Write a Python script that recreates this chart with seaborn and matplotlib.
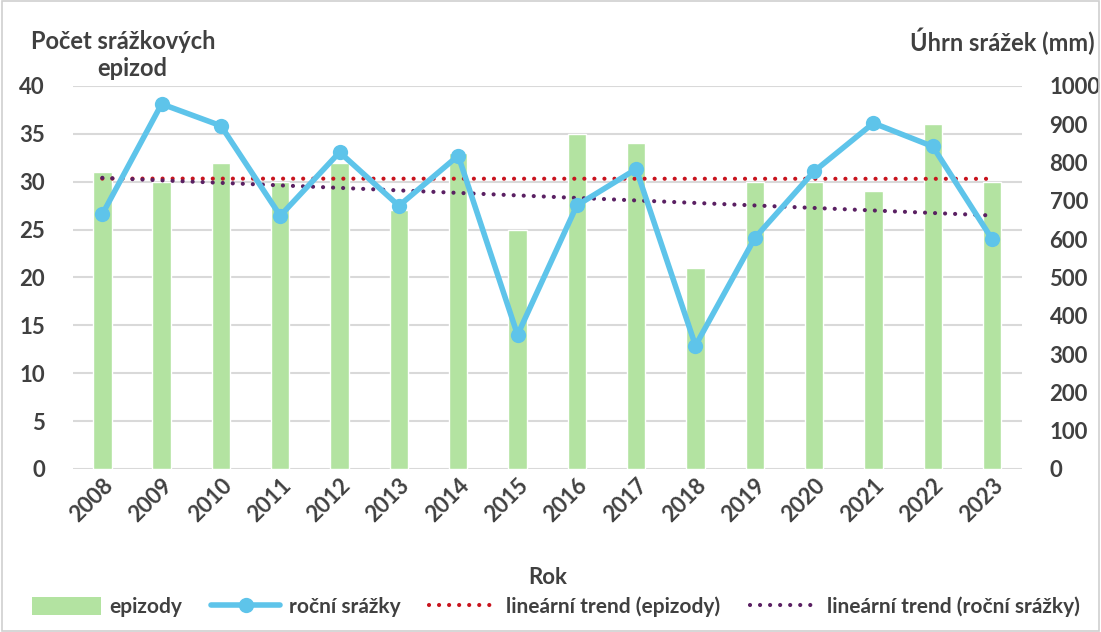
import numpy as np
import pandas as pd
import matplotlib
matplotlib.use("Agg")
import matplotlib.pyplot as plt
import seaborn as sns
from matplotlib.lines import Line2D
from matplotlib.patches import Patch, Rectangle

# =====================================================
# DATA
# =====================================================

years = [str(y) for y in range(2008, 2024)]
epizody = [31, 30, 32, 30, 32, 27, 33, 25, 35, 34, 21, 30, 30, 29, 36, 30]
srazky = [665, 953, 896, 661, 827, 687, 818, 350, 688, 783, 322, 603, 777, 903, 842, 600]

left_ticks = [0, 5, 10, 15, 20, 25, 30, 35, 40]
right_ticks = [0, 100, 200, 300, 400, 500, 600, 700, 800, 900, 1000]

df = pd.DataFrame({"Rok": years, "epizody": epizody, "srazky": srazky})

# =====================================================
# STYLE
# =====================================================

sns.set_theme(style="white")
plt.rcParams["font.family"] = ["Lato", "DejaVu Sans"]

GREEN = "#b3e3a1"
BLUE = "#5ec4ea"
RED = "#c8141e"
PURPLE = "#5a2062"
TXT = "#404040"
GRID = "#d9d9d9"
FS = 16

fig = plt.figure(figsize=(11.01, 6.32), dpi=100)
ax = fig.add_axes([0.066, 0.258, 0.862, 0.606])
ax2 = ax.twinx()

# =====================================================
# BARS + LINE
# =====================================================

sns.barplot(data=df, x="Rok", y="epizody", color=GREEN, width=0.31,
            saturation=1, ax=ax, zorder=2)

x = np.arange(len(years))
sns.lineplot(x=x, y=df["srazky"], color=BLUE, linewidth=4,
             marker="o", markersize=11, markeredgewidth=0, ax=ax2, zorder=4)

# linearni trendy
k1 = np.polyfit(x, epizody, 1)
k2 = np.polyfit(x, srazky, 1)
dots = (0, (0.01, 2.4))
ax.plot(x, np.polyval(k1, x), color=RED, lw=3, linestyle=dots,
        dash_capstyle="round", zorder=3)
ax2.plot(x, np.polyval(k2, x), color=PURPLE, lw=3, linestyle=dots,
         dash_capstyle="round", zorder=3)

# =====================================================
# AXES
# =====================================================

ax.set_xlim(-0.5, len(years) - 0.5)
ax.set_ylim(0, 40)
ax2.set_ylim(0, 1000)
ax.set_yticks(left_ticks)
ax2.set_yticks(right_ticks)
ax.yaxis.grid(True, color=GRID, lw=1.5, zorder=0)
ax.set_axisbelow(True)

for a in (ax, ax2):
    for s in a.spines.values():
        s.set_visible(False)
    a.tick_params(length=0, labelsize=FS, labelcolor=TXT)
    a.set_ylabel("")
    for lab in a.get_yticklabels():
        lab.set_fontweight("bold")

ax.tick_params(axis="y", pad=20)
ax2.tick_params(axis="y", pad=20)
ax.set_xlabel("Rok", fontsize=FS, fontweight="bold", color=TXT, labelpad=30)
plt.setp(ax.get_xticklabels(), rotation=45, ha="right", rotation_mode="anchor",
         fontweight="bold", fontsize=FS)
ax.tick_params(axis="x", pad=4)

fig.text(0.112, 0.935, "Počet srážkových", fontsize=FS + 1, fontweight="bold",
         color=TXT, ha="center", va="center")
fig.text(0.12, 0.891, "epizod", fontsize=FS + 1, fontweight="bold",
         color=TXT, ha="center", va="center")
fig.text(0.994, 0.935, "Úhrn srážek (mm)", fontsize=FS + 1, fontweight="bold",
         color=TXT, ha="right", va="center")

# =====================================================
# LEGEND
# =====================================================

handles = [
    Patch(facecolor=GREEN, edgecolor="none"),
    Line2D([], [], color=BLUE, lw=4, marker="o", markersize=11, markeredgewidth=0),
    Line2D([], [], color=RED, lw=3, linestyle=dots, dash_capstyle="round"),
    Line2D([], [], color=PURPLE, lw=3, linestyle=dots, dash_capstyle="round"),
]
labels = ["epizody", "roční srážky", "lineární trend (epizody)",
          "lineární trend (roční srážky)"]
leg = fig.legend(handles, labels, loc="center", bbox_to_anchor=(0.505, 0.04),
                 ncol=4, frameon=False, fontsize=FS - 1, handlelength=3.3,
                 columnspacing=1.4, handletextpad=0.4, handleheight=1.0)
for t in leg.get_texts():
    t.set_color(TXT)
    t.set_fontweight("bold")

fig.patches.append(Rectangle((0.002, 0.002), 0.996, 0.996, transform=fig.transFigure,
                             fill=False, edgecolor="#d0d0d0", lw=1.2))

fig.savefig("out.png", dpi=100)
